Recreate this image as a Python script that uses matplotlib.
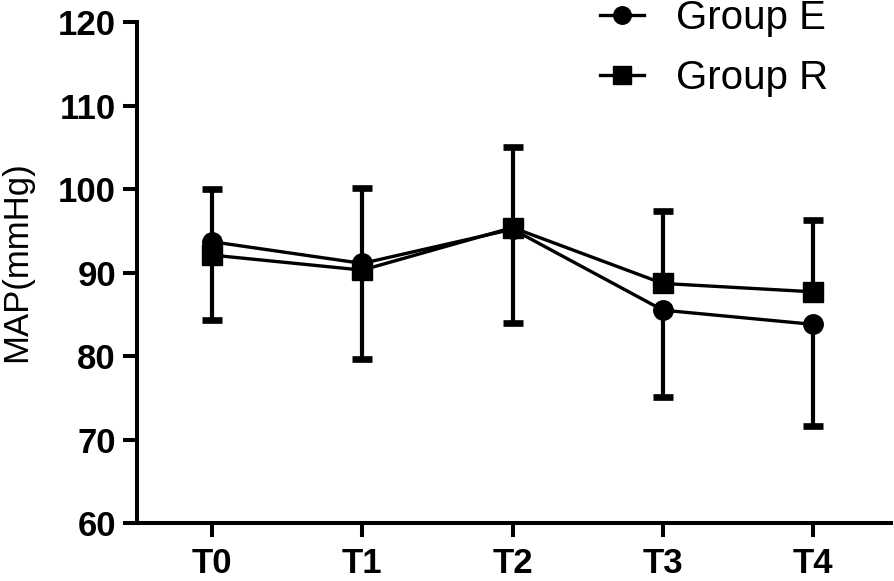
import numpy as np
import matplotlib
matplotlib.use('Agg')
import matplotlib.pyplot as plt

# data
timepoints = ['T0', 'T1', 'T2', 'T3', 'T4']
group_e_mean = [93.7, 91.1, 95.2, 85.5, 83.8]
group_e_sd = [9.4, 11.5, 11.2, 10.4, 12.2]   # drawn below only
group_r_mean = [92.1, 90.3, 95.4, 88.7, 87.7]
group_r_sd = [7.9, 9.8, 9.6, 8.7, 8.6]       # drawn above only

plt.rcParams['font.family'] = ['Liberation Sans', 'DejaVu Sans']

fig = plt.figure(figsize=(8.94, 5.81), dpi=100)
ax = fig.add_axes([0.153, 0.0998, 0.844, 0.862])

x = np.arange(len(timepoints))
zeros = np.zeros(len(x))

def draw(mean, yerr, marker, label):
    cont = ax.errorbar(x, mean, yerr=yerr, fmt='-', marker=marker, color='black',
                       lw=2.4, ms=14, elinewidth=3.0, capsize=7.2, capthick=4.8,
                       label=label, zorder=3)
    # hide caps that sit on the mean (one-sided bars)
    for cl in cont[1]:
        if np.allclose(cl.get_ydata(), mean):
            cl.set_visible(False)
    return cont[0]

h_e = draw(group_e_mean, [group_e_sd, zeros], 'o', 'Group E')
h_r = draw(group_r_mean, [zeros, group_r_sd], 's', 'Group R')

ax.set_xlim(-0.5, 4.52)
ax.set_ylim(60, 120)
ax.set_yticks(np.arange(60, 121, 10))
ax.set_xticks(x)
ax.set_xticklabels(timepoints)

for s in ['top', 'right']:
    ax.spines[s].set_visible(False)
for s in ['left', 'bottom']:
    ax.spines[s].set_linewidth(2.9)

ax.tick_params(axis='both', width=2.9, length=10, labelsize=25)
ax.tick_params(axis='y', pad=5)
ax.tick_params(axis='x', pad=7)
for t in ax.get_xticklabels() + ax.get_yticklabels():
    t.set_fontweight('bold')

ax.set_ylabel('MAP(mmHg)', fontsize=25)
ax.yaxis.set_label_coords(-0.138, 0.521)

ax.legend([h_e, h_r], ['Group E', 'Group R'], loc='center left',
          bbox_to_anchor=(0.671, 0.917), bbox_transform=fig.transFigure,
          frameon=False, fontsize=29, handlelength=1.1, handletextpad=0.8,
          labelspacing=0.55, borderpad=0, borderaxespad=0, markerscale=0.9)

fig.savefig('out.png', dpi=100)
